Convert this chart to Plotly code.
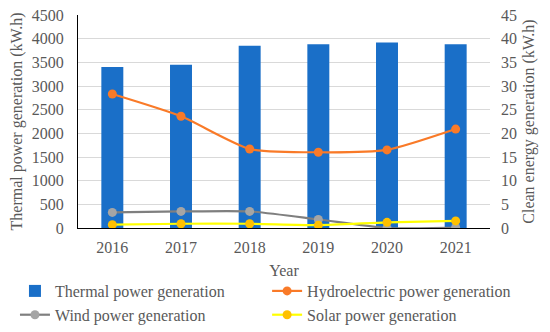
import plotly.graph_objects as go

years = ["2016", "2017", "2018", "2019", "2020", "2021"]
thermal = [3400, 3450, 3850, 3880, 3920, 3880]
hydro = [28.3, 23.6, 16.7, 16.0, 16.5, 20.9]
wind = [3.3, 3.5, 3.5, 1.8, 0.0, 0.1]
solar = [0.7, 0.9, 0.9, 0.6, 1.2, 1.5]

FONT = "'Liberation Serif', 'Times New Roman', Times, serif"
TICKFAMILY = '"Liberation Serif", "Times New Roman", Times, serif'
GRAY = "#595959"

fig = go.Figure()
fig.add_trace(go.Bar(x=years, y=thermal, name="Thermal power generation",
                     marker=dict(color="#1a6fc8", line=dict(width=0)), width=0.32,
                     legend="legend"))
fig.add_trace(go.Scatter(x=years, y=hydro, name="Hydroelectric power generation", yaxis="y2",
                         mode="lines+markers",
                         line=dict(color="#f97a28", width=2.2, shape="spline", smoothing=0.6),
                         marker=dict(color="#f97a28", size=9), legend="legend2"))
fig.add_trace(go.Scatter(x=years, y=wind, name="Wind power generation", yaxis="y2",
                         mode="lines+markers",
                         line=dict(color="#7f7f7f", width=2.2, shape="spline", smoothing=0.6),
                         marker=dict(color="#a5a5a5", size=9), legend="legend"))
fig.add_trace(go.Scatter(x=years, y=solar, name="Solar power generation", yaxis="y2",
                         mode="lines+markers",
                         line=dict(color="#ffff00", width=2.2, shape="spline", smoothing=0.6),
                         marker=dict(color="#ffc000", size=9), legend="legend2"))

legend_common = dict(orientation="v", yanchor="top", xanchor="left",
                     font=dict(family=FONT, size=16, color=GRAY), traceorder="normal",
                     itemwidth=30, tracegroupgap=0, bgcolor="rgba(0,0,0,0)")

tickfont = dict(family=TICKFAMILY, size=16, color=GRAY)
titlefont = dict(family=FONT, size=16, color=GRAY)

fig.update_layout(
    width=550, height=332,
    margin=dict(l=70, r=68, t=7, b=112, pad=0, autoexpand=False),
    paper_bgcolor="white", plot_bgcolor="white",
    font=dict(family=FONT, size=16, color=GRAY),
    xaxis=dict(title=dict(text="Year", font=titlefont, standoff=9),
               showgrid=False, showline=True, linecolor="#000000", linewidth=1,
               ticks="", ticklabelstandoff=5, tickfont=tickfont, zeroline=False),
    yaxis=dict(title=dict(text="Thermal power generation (kW.h)", font=titlefont, standoff=6),
               range=[0, 4500], dtick=500, showgrid=True, gridcolor="#d9d9d9", gridwidth=1,
               showline=True, linecolor="#000000", linewidth=1, ticks="", ticklabelstandoff=10,
               ticklabeloverflow="allow", tickfont=tickfont, zeroline=False),
    yaxis2=dict(title=dict(text="Clean energy generation (kW.h)", font=titlefont, standoff=6),
                range=[0, 45], dtick=5, overlaying="y", side="right", showgrid=False,
                showline=False, ticks="", ticklabelstandoff=10, ticklabeloverflow="allow",
                tickfont=tickfont, zeroline=False),
    legend=dict(x=-0.153, y=-0.216, **legend_common),
    legend2=dict(x=0.459, y=-0.216, **legend_common),
    showlegend=True,
)

fig.write_html("out.html")
